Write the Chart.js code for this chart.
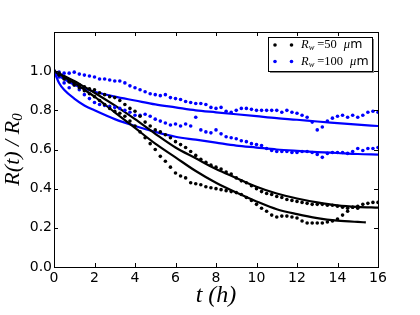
<!DOCTYPE html>
<html lang="en">
<head>
<meta charset="UTF-8">
<title>R(t)/R0</title>
<style>
    body { margin: 0; background: white; }
    #wrap { width: 420px; height: 315px; }
</style>
</head>
<body>
<div id="wrap"><canvas id="chart" width="420" height="315"></canvas></div>
<script src="https://cdn.jsdelivr.net/npm/chart.js"></script>
<script>
// time grid of the measured dots (h)
const dotTimes = [0, 0.25, 0.5, 0.75, 1, 1.25, 1.5, 1.75, 2, 2.25, 2.5, 2.75, 3, 3.25, 3.5, 3.75,
    4, 4.25, 4.5, 4.75, 5, 5.25, 5.5, 5.75, 6, 6.25, 6.5, 6.75, 7, 7.25, 7.5, 7.75,
    8, 8.25, 8.5, 8.75, 9, 9.25, 9.5, 9.75, 10, 10.25, 10.5, 10.75, 11, 11.25, 11.5, 11.75,
    12, 12.25, 12.5, 12.75, 13, 13.25, 13.5, 13.75, 14, 14.25, 14.5, 14.75, 15, 15.25, 15.5, 15.75, 16];

// Rw = 50 um, two experiments
const black1Dots = [1.00, 0.99, 0.97, 0.95, 0.94, 0.93, 0.92, 0.91, 0.905, 0.89, 0.88, 0.87, 0.865, 0.85, 0.83, 0.81,
    0.795, 0.77, 0.74, 0.72, 0.70, 0.69, 0.675, 0.66, 0.64, 0.625, 0.61, 0.59, 0.57, 0.55, 0.535, 0.52,
    0.51, 0.50, 0.485, 0.475, 0.455, 0.44, 0.43, 0.415, 0.40, 0.385, 0.375, 0.37, 0.36, 0.355, 0.345, 0.34,
    0.335, 0.33, 0.325, 0.32, 0.32, 0.32, 0.315, 0.315, 0.31, 0.305, 0.30, 0.305, 0.31, 0.32, 0.325, 0.33, 0.33];
const black2Dots = [1.00, 0.98, 0.96, 0.945, 0.93, 0.915, 0.90, 0.885, 0.87, 0.85, 0.83, 0.81, 0.795, 0.785, 0.77, 0.745,
    0.72, 0.69, 0.66, 0.63, 0.60, 0.565, 0.54, 0.51, 0.48, 0.465, 0.455, 0.43, 0.425, 0.42, 0.41, 0.405,
    0.40, 0.395, 0.39, 0.385, 0.38, 0.37, 0.355, 0.34, 0.32, 0.30, 0.285, 0.265, 0.255, 0.26, 0.26, 0.255,
    0.25, 0.235, 0.225, 0.225, 0.225, 0.225, 0.23, 0.235, 0.245, 0.265, 0.285, 0.305, 0.30];

// Rw = 100 um, two experiments
const blue1Dots = [1.00, 0.995, 0.99, 0.99, 0.995, 0.985, 0.98, 0.975, 0.97, 0.96, 0.96, 0.955, 0.95, 0.95, 0.94, 0.925,
    0.915, 0.905, 0.895, 0.885, 0.88, 0.875, 0.88, 0.865, 0.86, 0.855, 0.845, 0.84, 0.835, 0.835, 0.83, 0.815,
    0.81, 0.815, 0.795, 0.79, 0.80, 0.81, 0.81, 0.805, 0.80, 0.80, 0.80, 0.80, 0.80, 0.79, 0.80, 0.79,
    0.785, 0.775, 0.765, 0.74, 0.70, 0.715, 0.745, 0.76, 0.77, 0.775, 0.765, 0.775, 0.765, 0.775, 0.79, 0.795, 0.79];
const blue2Dots = [1.00, 0.97, 0.94, 0.915, 0.93, 0.905, 0.88, 0.86, 0.84, 0.83, 0.825, 0.82, 0.815, 0.81, 0.80, 0.79,
    0.775, 0.775, 0.78, 0.77, 0.755, 0.745, 0.735, 0.725, 0.73, 0.72, 0.73, 0.72, 0.765, 0.70, 0.69, 0.685,
    0.70, 0.68, 0.665, 0.66, 0.655, 0.645, 0.64, 0.63, 0.625, 0.62, 0.605, 0.595, 0.59, 0.59, 0.59, 0.585,
    0.585, 0.59, 0.59, 0.585, 0.575, 0.56, 0.58, 0.585, 0.585, 0.585, 0.58, 0.59, 0.605, 0.595, 0.605, 0.605, 0.61];

// fitted curves
const fitTimes = [0, 0.25, 0.5, 1, 1.5, 2, 3, 4, 5, 6, 7, 8, 9, 10, 11, 12, 13, 14, 15, 16];
const black1Fit = [1.00, 0.99, 0.975, 0.95, 0.92, 0.89, 0.825, 0.755, 0.68, 0.61, 0.555, 0.50, 0.455, 0.41, 0.375, 0.35, 0.33, 0.315, 0.307, 0.303];
const black2FitTimes = [0, 0.25, 0.5, 1, 1.5, 2, 3, 4, 5, 6, 7, 8, 9, 10, 11, 12, 13, 14, 15, 15.4];
const black2Fit = [1.00, 0.985, 0.97, 0.94, 0.905, 0.87, 0.79, 0.71, 0.63, 0.56, 0.49, 0.43, 0.38, 0.335, 0.295, 0.27, 0.25, 0.237, 0.23, 0.228];
const blue1Fit = [1.00, 0.975, 0.96, 0.93, 0.91, 0.895, 0.87, 0.85, 0.83, 0.815, 0.80, 0.79, 0.78, 0.77, 0.76, 0.752, 0.743, 0.735, 0.727, 0.72];
const blue2Fit = [1.00, 0.94, 0.905, 0.86, 0.825, 0.80, 0.755, 0.72, 0.69, 0.665, 0.65, 0.635, 0.62, 0.61, 0.60, 0.593, 0.587, 0.582, 0.577, 0.574];

const xTicks = [0, 2, 4, 6, 8, 10, 12, 14, 16];
const yTicks = [0, 0.2, 0.4, 0.6, 0.8, 1.0, 1.2];
const legendRadii = ['50', '100'];
const legendColors = ['#000000', '#0000ff'];

const pts = (xs, ys) => ys.map((v, i) => ({ x: xs[i], y: v }));

function dots(values, color) {
    return {
        data: pts(dotTimes, values),
        showLine: false,
        pointRadius: 1.8,
        pointBackgroundColor: color,
        pointBorderWidth: 0
    };
}

function fit(xs, values, color) {
    return {
        data: pts(xs, values),
        showLine: true,
        borderColor: color,
        borderWidth: 2.2,
        pointRadius: 0,
        cubicInterpolationMode: 'monotone'
    };
}

// frame, inward ticks, legend and axis titles
const decor = {
    id: 'decor',
    afterDraw(chart) {
        const c = chart.ctx;
        const a = chart.chartArea;
        const sx = chart.scales.x, sy = chart.scales.y;
        c.save();
        c.strokeStyle = '#000';
        c.lineWidth = 1;
        c.strokeRect(Math.round(a.left) + 0.5, Math.round(a.top) + 0.5,
            Math.round(a.right - a.left), Math.round(a.bottom - a.top));
        c.beginPath();
        xTicks.forEach(t => {
            const px = Math.round(sx.getPixelForValue(t)) + 0.5;
            c.moveTo(px, a.bottom); c.lineTo(px, a.bottom - 4);
            c.moveTo(px, a.top); c.lineTo(px, a.top + 4);
        });
        yTicks.forEach(t => {
            const py = Math.round(sy.getPixelForValue(t)) + 0.5;
            c.moveTo(a.left, py); c.lineTo(a.left + 4, py);
            c.moveTo(a.right, py); c.lineTo(a.right - 4, py);
        });
        c.stroke();

        // legend
        const bx = 268, by = 37, bw = 104, bh = 34;
        c.fillStyle = '#888';
        c.fillRect(bx + 2, by + 2, bw, bh);
        c.fillStyle = '#fff';
        c.fillRect(bx, by, bw, bh);
        c.strokeStyle = '#000';
        c.strokeRect(bx + 0.5, by + 0.5, bw, bh);
        legendRadii.forEach((r, i) => {
            const y = 45 + i * 16.5;
            c.fillStyle = legendColors[i];
            [275, 291.5].forEach(x => {
                c.beginPath(); c.arc(x, y, 1.8, 0, Math.PI * 2); c.fill();
            });
            c.fillStyle = '#000';
            c.textBaseline = 'middle';
            c.textAlign = 'left';
            let x = 301;
            c.font = 'italic 12.5px "Liberation Serif"';
            c.fillText('R', x, y); x += c.measureText('R').width;
            c.font = 'italic 8.5px "Liberation Serif"';
            c.fillText('w', x, y + 3); x += c.measureText('w').width + 3;
            c.font = '12.5px "Liberation Serif"';
            c.fillText('=' + r, x, y); x += c.measureText('=' + r).width + 7;
            c.font = 'italic 12.5px "Liberation Serif"';
            c.fillText('\u03bc', x, y); x += c.measureText('\u03bc').width;
            c.font = '12.5px "DejaVu Sans"';
            c.fillText('m', x, y);
        });

        // x title
        c.fillStyle = '#000';
        c.textBaseline = 'middle';
        c.textAlign = 'center';
        c.font = 'italic 24px "Liberation Serif"';
        c.fillText('t (h)', (a.left + a.right) / 2, 296);

        // y title
        c.translate(13, (a.top + a.bottom) / 2);
        c.rotate(-Math.PI / 2);
        c.textAlign = 'left';
        c.font = 'italic 22px "Liberation Serif"';
        const main = 'R(t) / R';
        const w1 = c.measureText(main).width;
        c.font = 'italic 15px "Liberation Serif"';
        const w2 = c.measureText('0').width;
        let x0 = -(w1 + w2) / 2;
        c.font = 'italic 22px "Liberation Serif"';
        c.fillText(main, x0, 0);
        c.font = 'italic 15px "Liberation Serif"';
        c.fillText('0', x0 + w1, 5);
        c.restore();
    }
};

new Chart(document.getElementById('chart').getContext('2d'), {
    type: 'scatter',
    data: {
        datasets: [
            dots(black1Dots, '#000000'),
            dots(black2Dots, '#000000'),
            dots(blue1Dots, '#0000ff'),
            dots(blue2Dots, '#0000ff'),
            fit(fitTimes, black1Fit, '#000000'),
            fit(black2FitTimes, black2Fit, '#000000'),
            fit(fitTimes, blue1Fit, '#0000ff'),
            fit(fitTimes, blue2Fit, '#0000ff')
        ]
    },
    options: {
        responsive: false,
        animation: false,
        layout: { padding: { top: 32, right: 42, left: 0, bottom: 0 } },
        plugins: { legend: { display: false }, tooltip: { enabled: false } },
        scales: {
            x: {
                type: 'linear',
                min: 0, max: 16,
                afterFit: s => { s.height = 48; },
                afterBuildTicks: s => { s.ticks = xTicks.map(v => ({ value: v })); },
                grid: { display: false, drawTicks: false },
                border: { display: false },
                ticks: {
                    padding: 3,
                    color: '#000',
                    font: { family: 'DejaVu Sans', size: 14 },
                    maxRotation: 0,
                    callback: v => String(v)
                }
            },
            y: {
                type: 'linear',
                min: 0, max: 1.2,
                afterFit: s => { s.width = 54; },
                afterBuildTicks: s => { s.ticks = yTicks.map(v => ({ value: v })); },
                grid: { display: false, drawTicks: false },
                border: { display: false },
                ticks: {
                    padding: 2,
                    color: '#000',
                    font: { family: 'DejaVu Sans', size: 14 },
                    callback: v => v > 1.1 ? '' : v.toFixed(1)
                }
            }
        }
    },
    plugins: [decor]
});
</script>
</body>
</html>
